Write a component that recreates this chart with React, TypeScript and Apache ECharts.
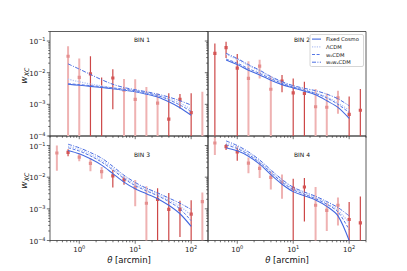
import React, { useEffect, useRef } from "react";
import * as echarts from "echarts";

// ---------- data ----------
const THETA = [0.398, 0.631, 1.0, 1.585, 2.512, 3.981, 6.31, 10.0, 15.85, 25.12, 39.81, 63.1, 100.0, 158.5];
const MODEL_THETA = [0.631, 1.0, 1.585, 2.512, 3.981, 6.31, 10.0, 15.85, 25.12, 39.81, 63.1, 100.0];

const BIN_LABELS = ["BIN 1", "BIN 2", "BIN 3", "BIN 4"];
const MODEL_NAMES = ["Fixed Cosmo", "ΛCDM", "w₀CDM", "w₀wₐCDM"];

// measured w_XC (null = not measured), errors, and dark(1)/light(0) errorbar style
const W_BIN1 = [null, 0.033, 0.0071, 0.0092, -0.002, 0.0068, 0.0028, 0.00144, -0.001, 0.0011, 0.00034, 0.00144, 0.00055, -0.001];
const E_BIN1 = [null, 0.036, 0.021, 0.024, 0.009, 0.0061, 0.0035, 0.0048, 0.0045, 0.0011, 0.0019, 0.0007, 0.0017, 0.0035];
const D_BIN1 = [0, 0, 0, 1, 1, 1, 0, 0, 0, 0, 1, 1, 1, 0];

const W_BIN2 = [0.041, 0.062, 0.014, 0.0066, 0.016, 0.003, 0.0054, 0.0023, 0.0022, 0.00084, 0.00081, 0.0016, 0.00048, 0.00065];
const E_BIN2 = [0.042, 0.033, 0.025, 0.0165, 0.0095, 0.0048, 0.003, 0.0043, 0.003, 0.0022, 0.0014, 0.0011, 0.0013, 0.0024];
const D_BIN2 = [1, 1, 1, 0, 0, 0, 1, 1, 1, 0, 0, 0, 1, 1];

const W_BIN3 = [0.058, 0.061, 0.043, 0.0275, 0.015, 0.011, 0.0082, 0.0047, 0.0015, 0.002, 0.00096, 0.00096, 0.00068, 0.0017];
const E_BIN3 = [0.042, 0.015, 0.011, 0.012, 0.006, 0.0063, 0.0024, 0.0035, 0.0037, 0.0025, 0.0022, 0.00083, 0.0012, 0.0016];
const D_BIN3 = [0, 1, 0, 0, 0, 1, 1, 0, 0, 1, 1, 1, 1, 0];

const W_BIN4 = [0.12, 0.092, 0.063, 0.0277, 0.019, 0.0098, 0.0071, 0.0044, 0.0049, 0.0013, 0.0009, 0.0013, 0.00046, 0.00036];
const E_BIN4 = [0.07, 0.02, 0.03, 0.0145, 0.0095, 0.0057, 0.005, 0.0045, 0.0045, 0.0036, 0.0007, 0.001, 0.0012, 0.0021];
const D_BIN4 = [0, 1, 1, 0, 0, 0, 0, 1, 1, 0, 0, 0, 1, 1];

// model curves, one list per bin
const FIXED_COSMO = [
  [0.0043, 0.004, 0.0037, 0.0034, 0.0031, 0.0028, 0.0025, 0.0021, 0.0017, 0.0012, 0.00078, 0.00045],
  [0.025, 0.018, 0.012, 0.0085, 0.0058, 0.0042, 0.0033, 0.0026, 0.002, 0.0013, 0.0008, 0.00036],
  [0.07, 0.055, 0.038, 0.024, 0.013, 0.007, 0.0043, 0.003, 0.0021, 0.0013, 0.0007, 0.00028],
  [0.085, 0.068, 0.046, 0.026, 0.012, 0.006, 0.0035, 0.0026, 0.0019, 0.0012, 0.0006, 0.0001],
];
const LCDM = [
  [0.0062, 0.0052, 0.0044, 0.0038, 0.0033, 0.0029, 0.0026, 0.0022, 0.0019, 0.0015, 0.0011, 0.0007],
  [0.038, 0.026, 0.017, 0.011, 0.0072, 0.0049, 0.0036, 0.0029, 0.0023, 0.0017, 0.0011, 0.00065],
  [0.095, 0.075, 0.052, 0.034, 0.019, 0.01, 0.006, 0.0041, 0.0029, 0.0019, 0.0012, 0.00063],
  [0.12, 0.088, 0.057, 0.031, 0.015, 0.0075, 0.0043, 0.0031, 0.0023, 0.0015, 0.0009, 0.00036],
];
const W0CDM = [
  [0.0045, 0.0042, 0.0039, 0.0036, 0.0033, 0.003, 0.0027, 0.0023, 0.0019, 0.0014, 0.00095, 0.0006],
  [0.027, 0.02, 0.0135, 0.0095, 0.0065, 0.0046, 0.0035, 0.0028, 0.0022, 0.0016, 0.001, 0.00055],
  [0.085, 0.067, 0.047, 0.03, 0.017, 0.009, 0.0054, 0.0037, 0.0026, 0.0017, 0.001, 0.00042],
  [0.105, 0.08, 0.052, 0.029, 0.014, 0.007, 0.004, 0.0029, 0.0021, 0.0014, 0.0008, 0.00022],
];
const W0WACDM = [
  [0.019, 0.013, 0.0088, 0.006, 0.0043, 0.0034, 0.0029, 0.0025, 0.0021, 0.0017, 0.0013, 0.00095],
  [0.041, 0.028, 0.018, 0.012, 0.0076, 0.0052, 0.0039, 0.0032, 0.0027, 0.0021, 0.0015, 0.0009],
  [0.11, 0.085, 0.06, 0.04, 0.022, 0.0115, 0.0068, 0.0045, 0.0032, 0.0022, 0.0015, 0.00096],
  [0.14, 0.1, 0.063, 0.035, 0.017, 0.0085, 0.0048, 0.0034, 0.0025, 0.0017, 0.0011, 0.0006],
];

const X_MINOR = [0.3, 0.4, 0.5, 0.6, 0.7, 0.8, 0.9, 2, 3, 4, 5, 6, 7, 8, 9, 20, 30, 40, 50, 60, 70, 80, 90, 200];
const X_MAJOR = [1, 10, 100];
const Y_MINOR = [2e-4, 3e-4, 4e-4, 5e-4, 6e-4, 7e-4, 8e-4, 9e-4, 2e-3, 3e-3, 4e-3, 5e-3, 6e-3, 7e-3, 8e-3, 9e-3, 0.02, 0.03, 0.04, 0.05, 0.06, 0.07, 0.08, 0.09, 0.2];
const Y_MAJOR = [1e-4, 1e-3, 1e-2, 1e-1];

const X_MIN = 0.3;
const X_MAX = 200;
const Y_MIN = 1e-4;
const Y_MAX = 0.2;

// ---------- styles ----------
const FONT = "DejaVu Sans";
const DARK = "#cd4747";
const LIGHT = "#efb2b2";
const DARK_M = "#d55555";
const LIGHT_M = "#e58f8f";
const AX = "#333333";
const GRIDS = [
  { left: 50, top: 31.5, width: 158, height: 104.5 },
  { left: 208, top: 31.5, width: 158, height: 104.5 },
  { left: 50, top: 136, width: 158, height: 104.5 },
  { left: 208, top: 136, width: 158, height: 104.5 },
];
const MODEL_STYLES = [
  { color: "#4469e0", width: 1.1, type: "solid" as any },
  { color: "#b4c3f3", width: 1.3, type: [1.2, 1.2] as any },
  { color: "#5577e6", width: 1.0, type: [3, 1.6] as any },
  { color: "#4a6de2", width: 1.0, type: [4, 1.4, 1, 1.4] as any },
];

const W = [W_BIN1, W_BIN2, W_BIN3, W_BIN4];
const E = [E_BIN1, E_BIN2, E_BIN3, E_BIN4];
const D = [D_BIN1, D_BIN2, D_BIN3, D_BIN4];
const MODELS = [FIXED_COSMO, LCDM, W0CDM, W0WACDM];

function expLabel(v: number) {
  const l = Math.log10(v);
  const r = Math.round(l);
  if (Math.abs(l - r) > 1e-6) return "";
  const s = r < 0 ? "\u2212" + Math.abs(r) : String(r);
  return "{b|10}{e|" + s + "}";
}
const LABEL_RICH = {
  b: { fontSize: 7, fontFamily: FONT, color: "#222", verticalAlign: "bottom", lineHeight: 9 },
  e: { fontSize: 5, fontFamily: FONT, color: "#222", verticalAlign: "top", lineHeight: 5 },
};

export default function App() {
  const ref = useRef<HTMLDivElement>(null);
  useEffect(() => {
    if (!ref.current) return;
    const chart = echarts.init(ref.current, null, { renderer: "svg" });

    const xAxis: any[] = [];
    const yAxis: any[] = [];
    const series: any[] = [];

    for (let g = 0; g < 4; g++) {
      const bottom = g >= 2;
      const left = g % 2 === 0;
      xAxis.push({
        type: "log", logBase: 10, gridIndex: g, min: X_MIN, max: X_MAX,
        axisLine: { show: false }, axisTick: { show: false }, splitLine: { show: false },
        axisLabel: { show: bottom, formatter: expLabel, rich: LABEL_RICH, margin: 4, showMinLabel: false, showMaxLabel: false },
      });
      yAxis.push({
        type: "log", logBase: 10, gridIndex: g, min: Y_MIN, max: Y_MAX,
        axisLine: { show: false }, axisTick: { show: false }, splitLine: { show: false },
        axisLabel: { show: left, formatter: expLabel, rich: LABEL_RICH, margin: 4.5, showMaxLabel: false },
      });

      // error bars
      const ebData: any[] = [];
      THETA.forEach((t, i) => {
        const v = W[g][i];
        const e = E[g][i];
        if (v === null || e === null) return;
        ebData.push([t, v + e, v, e, D[g][i]]);
      });
      series.push({
        type: "custom", xAxisIndex: g, yAxisIndex: g, clip: true, z: 2,
        encode: { x: 0, y: 1 },
        data: ebData,
        renderItem: (params: any, api: any) => {
          const x = api.value(0);
          const v = api.value(2);
          const e = api.value(3);
          const dark = api.value(4) === 1;
          const top = api.coord([x, v + e]);
          const low = v - e > 0 ? v - e : 1e-7;
          const bot = api.coord([x, low]);
          const children: any[] = [
            { type: "line", shape: { x1: top[0], y1: top[1], x2: bot[0], y2: bot[1] },
              style: { stroke: dark ? DARK : LIGHT, lineWidth: dark ? 1.2 : 2 } },
          ];
          if (v > 0) {
            const c = api.coord([x, v]);
            children.push({ type: "rect", shape: { x: c[0] - 1.6, y: c[1] - 1.6, width: 3.2, height: 3.2 },
              style: { fill: dark ? DARK_M : LIGHT_M } });
          }
          return { type: "group", children };
        },
      });

      // model lines
      MODELS.forEach((m, k) => {
        const st = MODEL_STYLES[k];
        series.push({
          type: "line", name: MODEL_NAMES[k], xAxisIndex: g, yAxisIndex: g, z: 3,
          data: MODEL_THETA.map((t, i) => [t, m[g][i]]),
          showSymbol: false, symbol: "none", smooth: 0.3,
          lineStyle: { color: st.color, width: st.width, type: st.type },
          itemStyle: { color: st.color },
        });
      });

      // ticks
      const xt = X_MINOR.map((v) => [v, Y_MIN, 0]).concat(X_MAJOR.map((v) => [v, Y_MIN, 1]));
      series.push({
        type: "custom", xAxisIndex: g, yAxisIndex: g, clip: false, z: 4, silent: true,
        encode: { x: 0, y: 1 }, data: xt,
        renderItem: (params: any, api: any) => {
          const c = api.coord([api.value(0), Y_MIN]);
          const len = api.value(2) === 1 ? 3.2 : 1.8;
          return { type: "line", shape: { x1: c[0], y1: c[1], x2: c[0], y2: c[1] + len }, style: { stroke: AX, lineWidth: 0.7 } };
        },
      });
      const yt = Y_MINOR.map((v) => [X_MIN, v, 0]).concat(Y_MAJOR.map((v) => [X_MIN, v, 1]));
      series.push({
        type: "custom", xAxisIndex: g, yAxisIndex: g, clip: false, z: 4, silent: true,
        encode: { x: 0, y: 1 }, data: yt,
        renderItem: (params: any, api: any) => {
          const c = api.coord([X_MIN, api.value(1)]);
          const len = api.value(2) === 1 ? 3.2 : 1.8;
          return { type: "line", shape: { x1: c[0], y1: c[1], x2: c[0] - len, y2: c[1] }, style: { stroke: AX, lineWidth: 0.7 } };
        },
      });
    }

    const binPos = [
      [142, 39], [302, 39], [142, 154], [302, 154],
    ];
    const graphic: any[] = BIN_LABELS.map((t, i) => ({
      type: "text", x: binPos[i][0], y: binPos[i][1], z: 10,
      style: { text: t, fontSize: 6, fontFamily: FONT, fill: "#111", align: "center", verticalAlign: "middle" },
    }));
    // y-axis labels w_XC (rotated, reading bottom to top)
    [[24, 80], [24, 185]].forEach((p) => {
      graphic.push({
        type: "text", x: p[0], y: p[1], rotation: Math.PI / 2, z: 10,
        style: { text: "w", fontSize: 9, fontFamily: FONT, fontStyle: "italic", fill: "#111", align: "center", verticalAlign: "middle" },
      });
      graphic.push({
        type: "text", x: p[0] + 2.5, y: p[1] - 8, rotation: Math.PI / 2, z: 10,
        style: { text: "XC", fontSize: 6.3, fontFamily: FONT, fontStyle: "italic", fill: "#111", align: "center", verticalAlign: "middle" },
      });
    });
    [129, 287].forEach((x) => {
      graphic.push({
        type: "text", x, y: 260, z: 10,
        style: {
          text: "{t|θ} [arcmin]", align: "center", verticalAlign: "middle", fontSize: 8.5, fontFamily: FONT, fill: "#111",
          rich: { t: { fontSize: 8.5, fontFamily: FONT, fontStyle: "italic", fill: "#111" } },
        },
      });
    });
    // legend (drawn by hand so that dash styles are shown without symbols)
    const LG_X = 310, LG_Y = 34.5, LG_ROW = 7.7;
    graphic.push({
      type: "rect", z: 20, shape: { x: LG_X, y: LG_Y, width: 53.5, height: 32, r: 1.5 },
      style: { fill: "#ffffff", stroke: "#cccccc", lineWidth: 0.8 },
    });
    MODEL_NAMES.forEach((n, k) => {
      const st = MODEL_STYLES[k];
      const y = LG_Y + 4.6 + k * LG_ROW;
      graphic.push({
        type: "line", z: 21, shape: { x1: LG_X + 2, y1: y, x2: LG_X + 11, y2: y },
        style: { stroke: st.color, lineWidth: st.width, lineDash: st.type === "solid" ? null : st.type },
      });
      graphic.push({
        type: "text", z: 21, x: LG_X + 16, y,
        style: { text: n, fontSize: 5.2, fontFamily: FONT, fill: "#111", align: "left", verticalAlign: "middle" },
      });
    });

    chart.setOption({
      animation: false,
      backgroundColor: "#ffffff",
      grid: GRIDS.map((gr) => ({ ...gr, show: true, borderColor: AX, borderWidth: 0.8, backgroundColor: "transparent" })),
      xAxis,
      yAxis,
      series,
      graphic,
    });
    return () => chart.dispose();
  }, []);
  return <div ref={ref} style={{ width: 407, height: 271, position: "absolute", left: 0, top: 0 }} />;
}
